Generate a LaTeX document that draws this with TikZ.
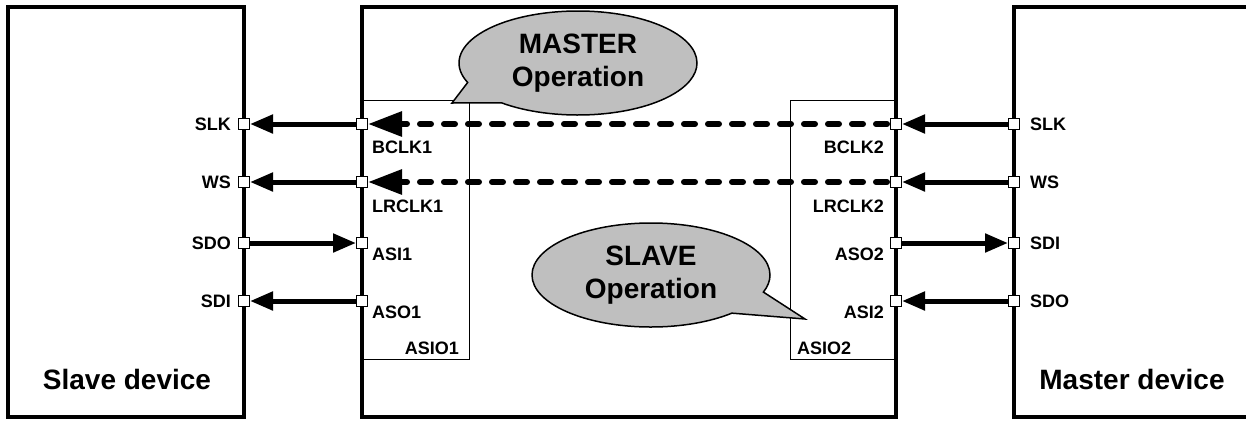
\documentclass[tikz,border=0pt]{standalone}
\usepackage{fontspec}
\setmainfont{Liberation Sans}
\usetikzlibrary{arrows.meta,shapes.callouts}

\begin{document}
\begin{tikzpicture}[x=1pt,y=-1pt,
	port/.style={draw,fill=white,line width=1pt,minimum size=11pt,inner sep=0pt},
	sig/.style={line width=5pt,-{Triangle[length=23pt,width=18pt]}},
	clk/.style={line width=6pt,dash pattern=on 11pt off 13pt,line cap=round,shorten <=3pt,-{Triangle[length=34pt,width=24pt]}},
	lbl/.style={font=\fontsize{18}{21}\selectfont\bfseries,inner sep=0pt},
	big/.style={font=\fontsize{28}{33}\selectfont\bfseries,align=center,inner sep=0pt},
	bubble/.style={ellipse callout,draw,line width=1.5pt,fill=black!25,minimum width=238pt,minimum height=104pt,callout pointer arc=28,big}]
			\useasboundingbox (0,0) rectangle (1246,421);
			
			% devices and chip
			\draw [line width=4pt] (8,7) rectangle (244,417);
			\draw [line width=4pt] (362,7) rectangle (896,417);
			\draw [line width=4pt] (1014,7) rectangle (1270,417);
			\draw [line width=1pt] (362,100) rectangle (469,359);
			\draw [line width=1pt] (790,100) rectangle (896,359);
			
			\node[big] (slave) at (127,379) {Slave device};
			\node[big] (master) at (1132,379) {Master device};
			\node[lbl,anchor=east] (asioa) at (459,348) {ASIO1};
			\node[lbl,anchor=west] (asiob) at (797,348) {ASIO2};
			
			% pins
			\node[port] (sslk) at (244,124) {}; \node[lbl,anchor=east] (tsslk) at (231,124) {SLK};
			\node[port] (sws) at (244,182) {}; \node[lbl,anchor=east] (tsws) at (231,182) {WS};
			\node[port] (ssdo) at (244,243) {}; \node[lbl,anchor=east] (tssdo) at (231,243) {SDO};
			\node[port] (ssdi) at (244,301) {}; \node[lbl,anchor=east] (tssdi) at (231,301) {SDI};
			
			\node[port] (abclk) at (362,124) {}; \node[lbl,anchor=west] (tabclk) at (372,147) {BCLK1};
			\node[port] (alrclk) at (362,182) {}; \node[lbl,anchor=west] (talrclk) at (372,206) {LRCLK1};
			\node[port] (aasi) at (362,243) {}; \node[lbl,anchor=west] (taasi) at (372,254) {ASI1};
			\node[port] (aaso) at (362,301) {}; \node[lbl,anchor=west] (taaso) at (372,312) {ASO1};
			
			\node[port] (bbclk) at (896,124) {}; \node[lbl,anchor=east] (tbbclk) at (884,147) {BCLK2};
			\node[port] (blrclk) at (896,182) {}; \node[lbl,anchor=east] (tblrclk) at (884,206) {LRCLK2};
			\node[port] (baso) at (896,243) {}; \node[lbl,anchor=east] (tbaso) at (884,254) {ASO2};
			\node[port] (basi) at (896,301) {}; \node[lbl,anchor=east] (tbasi) at (884,312) {ASI2};
			
			\node[port] (mslk) at (1014,124) {}; \node[lbl,anchor=west] (tmslk) at (1030,124) {SLK};
			\node[port] (mws) at (1014,182) {}; \node[lbl,anchor=west] (tmws) at (1030,182) {WS};
			\node[port] (msdi) at (1014,243) {}; \node[lbl,anchor=west] (tmsdi) at (1030,243) {SDI};
			\node[port] (msdo) at (1014,301) {}; \node[lbl,anchor=west] (tmsdo) at (1030,301) {SDO};
			
			% signals
			\draw [sig] (abclk) -- (sslk);
			\draw [sig] (alrclk) -- (sws);
			\draw [sig] (ssdo) -- (aasi);
			\draw [sig] (aaso) -- (ssdi);
			\draw [clk] (bbclk) -- (abclk);
			\draw [clk] (blrclk) -- (alrclk);
			\draw [sig] (mslk) -- (bbclk);
			\draw [sig] (mws) -- (blrclk);
			\draw [sig] (baso) -- (msdi);
			\draw [sig] (msdo) -- (basi);
			
			% callouts
			\node[bubble,callout absolute pointer={(452,103)}] (mop) at (578,63) {MASTER\\Operation};
			\node[bubble,callout absolute pointer={(805,319)}] (sop) at (651,275) {SLAVE\\Operation};
\end{tikzpicture}
\end{document}
